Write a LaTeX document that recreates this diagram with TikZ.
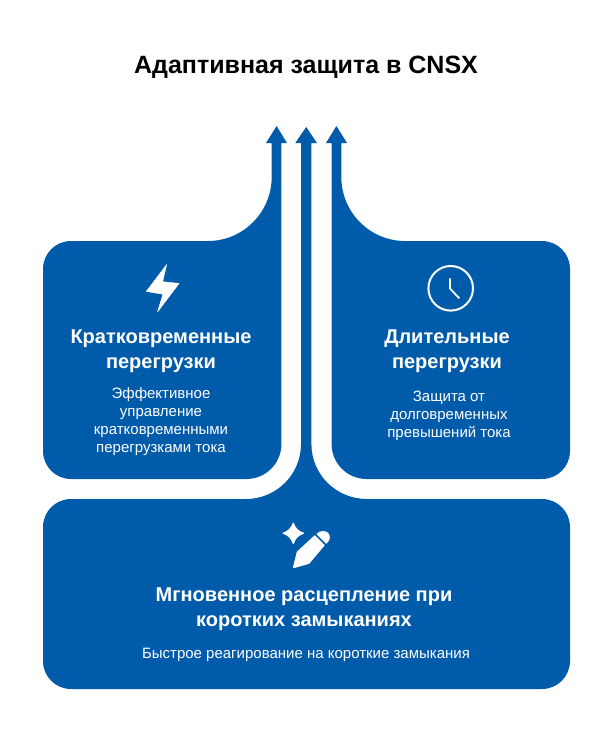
\documentclass[tikz,border=0pt]{standalone}
\usepackage{fontspec}
\setmainfont{Liberation Sans}
\definecolor{brandblue}{HTML}{005BAA}
\tikzset{
  panel/.style={fill=brandblue,draw=none},
  icon/.style={fill=white,draw=white,line width=1pt,line join=round},
  titletext/.style={align=center,inner sep=0pt,text=black,font=\fontsize{25}{29}\selectfont\bfseries},
  headtext/.style={align=center,inner sep=0pt,text=white,font=\fontsize{20}{25}\selectfont\bfseries},
  desctext/.style={align=center,inner sep=0pt,text=white,font=\fontsize{15}{18}\selectfont},
}
\begin{document}
\begin{tikzpicture}[x=1pt,y=-1pt]
\path[use as bounding box] (0,0) rectangle (612,732);
% left panel with arrow
\path[panel] (71,241) -- (208,241) .. controls (243.2,241) and (271.7,212.2) .. (271.7,177)
  -- (271.7,143) -- (266,143) -- (276.6,126) -- (287,143) -- (281.4,143) -- (281.4,444)
  .. controls (281.4,463.3) and (265.7,479) .. (246.4,479) -- (71,479)
  .. controls (55.5,479) and (43,466.5) .. (43,451) -- (43,269)
  .. controls (43,253.5) and (55.5,241) .. (71,241) -- cycle;
% right panel with arrow
\path[panel] (542,241) -- (405,241) .. controls (369.8,241) and (341.3,212.2) .. (341.3,177)
  -- (341.3,143) -- (347,143) -- (336.4,126) -- (326,143) -- (331.6,143) -- (331.6,444)
  .. controls (331.6,463.3) and (347.3,479) .. (366.6,479) -- (542,479)
  .. controls (557.5,479) and (570,466.5) .. (570,451) -- (570,269)
  .. controls (570,253.5) and (557.5,241) .. (542,241) -- cycle;
% bottom panel with arrow
\path[panel] (71,499) -- (246,499) .. controls (276.4,499) and (301,474.4) .. (301,444)
  -- (301,143) -- (295.3,143) -- (306.2,127) -- (317,143) -- (311.4,143) -- (311.4,444)
  .. controls (311.4,474.4) and (336,499) .. (367,499) -- (542,499)
  .. controls (557.5,499) and (570,511.5) .. (570,527) -- (570,661)
  .. controls (570,676.5) and (557.5,689) .. (542,689) -- (71,689)
  .. controls (55.5,689) and (43,676.5) .. (43,661) -- (43,527)
  .. controls (43,511.5) and (55.5,499) .. (71,499) -- cycle;
% bolt icon
\path[icon,line width=0.4pt] (166.7,264.5) -- (146.2,291.5) -- (162.9,294.2) -- (157.5,312)
  -- (179.1,283.4) -- (162.7,281.7) -- cycle;
% clock icon
\draw[white,line width=2pt] (450.7,288.3) circle[radius=22.3];
\draw[white,line width=1.8pt] (450,278.3) -- (450,288.5) -- (459.3,298.3);
% sparkle icon
\path[icon] (293.3,523) .. controls (295,528) and (298,531.5) .. (303.6,533.2)
  .. controls (298,535) and (295,538.5) .. (293.3,543.5)
  .. controls (291.5,538.5) and (288.5,535) .. (283,533.2)
  .. controls (288.5,531.5) and (291.5,528) .. (293.3,523) -- cycle;
% pencil icon
\path[icon] (293.4,567.7) -- (297.3,552) -- (314.8,535.8) -- (324.2,545.2) -- (308.8,563.4) -- cycle;
\path[icon] (317,534) .. controls (320.5,530.8) and (325.5,530.8) .. (328,533.5)
  .. controls (330.2,536.5) and (329.8,540) .. (326.2,543.2) -- cycle;
% texts
\node[titletext] (title) at (306,67) {Адаптивная защита в CNSX};
\node[headtext] (lhead) at (161,351) {Кратковременные\\перегрузки};
\node[desctext] (ldesc) at (161,422) {Эффективное\\управление\\кратковременными\\перегрузками тока};
\node[headtext] (rhead) at (447,351) {Длительные\\перегрузки};
\node[desctext] (rdesc) at (449,416) {Защита от\\долговременных\\превышений тока};
\node[headtext] (bhead) at (304,609) {Мгновенное расцепление при\\коротких замыканиях};
\node[desctext] (bdesc) at (306,655) {Быстрое реагирование на короткие замыкания};
\end{tikzpicture}
\end{document}
